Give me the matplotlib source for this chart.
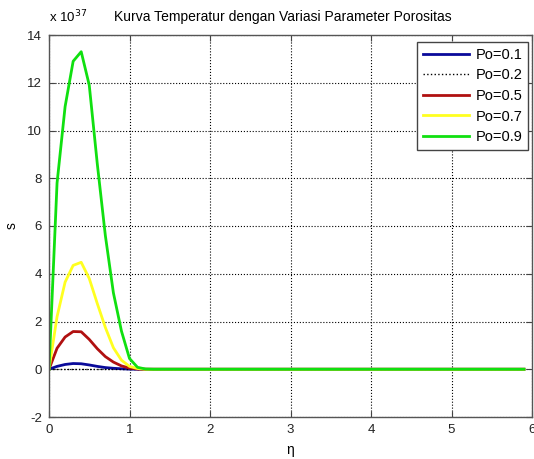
import matplotlib
matplotlib.use("Agg")
import matplotlib.pyplot as plt

plt.rcParams['font.family'] = ['Liberation Sans', 'DejaVu Sans']
plt.rcParams['axes.unicode_minus'] = False

# values are in units of 1e37
eta_01 = [0, 0.1, 0.2, 0.3, 0.4, 0.5, 0.6, 0.7, 0.8, 0.9, 1.0, 1.1, 5.9]
s_01 = [0, 0.12, 0.2, 0.24, 0.23, 0.18, 0.12, 0.07, 0.04, 0.02, 0.005, 0, 0]

eta_02 = [0, 5.9]
s_02 = [0, 0]

eta_05 = [0, 0.1, 0.2, 0.3, 0.4, 0.5, 0.6, 0.7, 0.8, 0.9, 1.0, 1.1, 1.2, 5.9]
s_05 = [0, 0.88, 1.35, 1.58, 1.57, 1.25, 0.86, 0.53, 0.3, 0.14, 0.05, 0.01, 0, 0]

eta_07 = [0, 0.1, 0.2, 0.3, 0.4, 0.5, 0.6, 0.7, 0.8, 0.9, 1.0, 1.1, 1.2, 5.9]
s_07 = [0, 2.2, 3.65, 4.35, 4.48, 3.8, 2.75, 1.75, 0.9, 0.38, 0.12, 0.03, 0, 0]

eta_09 = [0, 0.1, 0.2, 0.3, 0.4, 0.5, 0.6, 0.7, 0.8, 0.9, 1.0, 1.1, 1.2, 1.3, 5.9]
s_09 = [0, 7.8, 11.0, 12.9, 13.3, 11.9, 8.6, 5.6, 3.2, 1.6, 0.45, 0.08, 0.01, 0, 0]

labels = ['Po=0.1', 'Po=0.2', 'Po=0.5', 'Po=0.7', 'Po=0.9']

fig = plt.figure(figsize=(5.34, 4.59), dpi=100)
ax = fig.add_axes([49 / 534, 42 / 459, 483 / 534, 382 / 459])

ax.plot(eta_01, s_01, color='#0a0a9a', lw=2.0, label=labels[0])
ax.plot(eta_02, s_02, color='black', lw=1.0, ls=':', label=labels[1])
ax.plot(eta_05, s_05, color='#b01010', lw=2.0, label=labels[2])
ax.plot(eta_07, s_07, color='#ffff20', lw=2.0, label=labels[3])
ax.plot(eta_09, s_09, color='#10e010', lw=2.0, label=labels[4])

ax.set_xlim(0, 6)
ax.set_ylim(-2, 14)
ax.set_xticks(range(0, 7))
ax.set_yticks(range(-2, 15, 2))
ax.grid(True, color='black', ls=':', lw=0.8)
ax.tick_params(direction='in', length=4, labelsize=9.5, pad=5, color='#444444',
               top=True, right=True, labelcolor='#222222')
for sp in ax.spines.values():
    sp.set_color('#555555')
    sp.set_linewidth(1.0)

ax.set_title('Kurva Temperatur dengan Variasi Parameter Porositas', fontsize=10, pad=10, x=0.485)
ax.set_xlabel('η', fontsize=10, labelpad=5)
ax.set_ylabel('s', fontsize=10, labelpad=6)
ax.text(0.0, 1.025, 'x 10$^{37}$', transform=ax.transAxes, fontsize=9.5, va='bottom', ha='left')

leg = ax.legend(loc='upper right', bbox_to_anchor=(0.9917, 0.9817), borderaxespad=0,
                fancybox=False, edgecolor='#444444', framealpha=1, fontsize=10.5,
                handlelength=3.2, labelspacing=0.45, borderpad=0.4, handletextpad=0.4)
leg.get_frame().set_linewidth(1.0)

fig.savefig('out.png', dpi=100)
